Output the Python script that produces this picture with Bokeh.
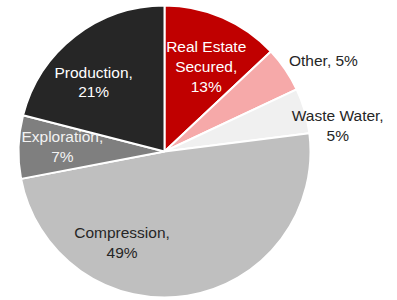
import math
from bokeh.plotting import figure
from bokeh.models import ColumnDataSource, Range1d
from bokeh.core.properties import value
from bokeh.embed import file_html
from bokeh.resources import INLINE

# ---- data ----
categories = ["Real Estate Secured", "Other", "Waste Water", "Compression", "Exploration", "Production"]
label_names = ["Real Estate\nSecured,", "Other,", "Waste Water,", "Compression,", "Exploration,", "Production,"]
values = [13, 5, 5, 49, 7, 21]

# ---- styles / layout ----
colors = ["#C00000", "#F6A9A9", "#F0F0F0", "#BFBFBF", "#7F7F7F", "#262626"]
text_colors = ["#FFFFFF", "#262626", "#262626", "#262626", "#F2F2F2", "#FFFFFF"]
label_frac = [0.65, 1.25, 1.2, 0.68, 0.70, 0.68]
label_nudge = [(4, -2), (8, -12), (5, -23), (-58, 7), (0, 2), (-10, -9)]
label_sep = ["\n", " ", "\n", "\n", "\n", "\n"]

W, H = 390, 298
cx, cy, R = 164, H - 151, 146

total = float(sum(values))
starts, ends, lx, ly, texts = [], [], [], [], []
cum = 0.0
for i, v in enumerate(values):
    a0 = math.pi / 2 - 2 * math.pi * cum / total
    cum += v
    a1 = math.pi / 2 - 2 * math.pi * cum / total
    starts.append(a0)
    ends.append(a1)
    mid = (a0 + a1) / 2
    r = label_frac[i] * R
    lx.append(cx + r * math.cos(mid) + label_nudge[i][0])
    ly.append(cy + r * math.sin(mid) + label_nudge[i][1])
    texts.append(f"{label_names[i]}{label_sep[i]}{v}%")

src = ColumnDataSource(dict(cat=categories, start=starts, end=ends, color=colors))
lsrc = ColumnDataSource(dict(x=lx, y=ly, text=texts, tc=text_colors))

p = figure(width=W, height=H, output_backend="svg", toolbar_location=None,
           x_range=Range1d(0, W), y_range=Range1d(0, H), min_border=0)
p.axis.visible = False
p.grid.visible = False
p.outline_line_color = None
p.background_fill_color = "white"

p.wedge(x=cx, y=cy, radius=R, start_angle="start", end_angle="end", direction="clock",
        fill_color="color", line_color="white", line_width=2, source=src)

p.text(x="x", y="y", text="text", text_color="tc", source=lsrc,
       text_font=value("Liberation Sans"), text_font_size="15.5px",
       text_align="center", text_baseline="middle", text_line_height=1.17)

open("out.html", "w").write(file_html(p, INLINE))
